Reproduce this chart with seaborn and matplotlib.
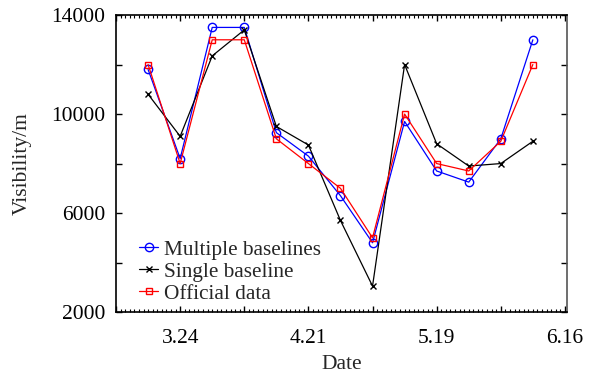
import pandas as pd
import seaborn as sns
import matplotlib.pyplot as plt
import matplotlib.dates as mdates

# weekly observation dates (month.day)
dates = ['3.17', '3.24', '3.31', '4.7', '4.14', '4.21', '4.28',
         '5.5', '5.12', '5.19', '5.26', '6.2', '6.9']
multiple = [11800, 8200, 13500, 13500, 9250, 8300, 6700,
            4800, 9700, 7700, 7250, 9000, 13000]
single = [10800, 9100, 12350, 13400, 9500, 8750, 5700,
          3050, 12000, 8800, 7900, 8000, 8900]
official = [12000, 8000, 13000, 13000, 9000, 8000, 7000,
            5000, 10000, 8000, 7700, 8900, 12000]

df = pd.DataFrame({
    'Date': pd.to_datetime(['2019.' + d for d in dates], format='%Y.%m.%d'),
    'Multiple baselines': multiple,
    'Single baseline': single,
    'Official data': official,
})

sns.set_style('ticks')
plt.rcParams['font.family'] = ['Liberation Serif', 'DejaVu Serif']

fig = plt.figure(figsize=(5.89, 3.76), dpi=100)
ax = fig.add_axes([0.197, 0.170, 0.766, 0.790])

sns.lineplot(data=df, x='Date', y='Multiple baselines', ax=ax, color='#0000ff',
             marker='o', markersize=6, markerfacecolor='none', markeredgecolor='#0000ff',
             markeredgewidth=1.0, linewidth=0.9, label='Multiple baselines')
sns.lineplot(data=df, x='Date', y='Single baseline', ax=ax, color='black',
             marker='x', markersize=5, markeredgecolor='black', markeredgewidth=1.0,
             linewidth=0.9, label='Single baseline')
sns.lineplot(data=df, x='Date', y='Official data', ax=ax, color='#ff0000',
             marker='s', markersize=4.6, markerfacecolor='none', markeredgecolor='#ff0000',
             markeredgewidth=1.0, linewidth=0.9, label='Official data')

ax.set_ylim(2000, 14000)
ax.set_yticks([2000, 4000, 6000, 8000, 10000, 12000, 14000])
ax.set_yticklabels(['2000', '', '6000', '', '10000', '', '14000'])

ax.set_xlim(pd.Timestamp('2019-03-10'), pd.Timestamp('2019-06-16 12:00'))
major = pd.date_range('2019-03-10', '2019-06-16', freq='14D')
ax.set_xticks(major)
ax.set_xticklabels(['' if i % 2 == 0 else f'{d.month}.{d.day}' for i, d in enumerate(major)])
ax.xaxis.set_minor_locator(mdates.DayLocator())

ax.tick_params(axis='both', which='both', direction='in', top=True, right=True,
               labelsize=15.5, colors='black')
ax.tick_params(axis='y', pad=8)
ax.tick_params(axis='x', pad=12)
ax.tick_params(axis='both', which='major', length=4, width=1.0)
ax.tick_params(axis='x', which='minor', length=2, width=0.8)
ax.tick_params(axis='y', which='minor', left=False, right=False)

for s in ax.spines.values():
    s.set_linewidth(1.2)
    s.set_color('black')
ax.spines['right'].set_color('#555555')

ax.set_xlabel('Date', fontsize=15.5, labelpad=5)
ax.set_ylabel('Visibility/m', fontsize=15.5, labelpad=14)

ax.legend(loc='lower left', bbox_to_anchor=(0.032, 0.0), frameon=False, fontsize=15.3,
          handlelength=0.9, handletextpad=0.3, labelspacing=0.1, borderaxespad=0)

fig.savefig('out.png', dpi=100)
